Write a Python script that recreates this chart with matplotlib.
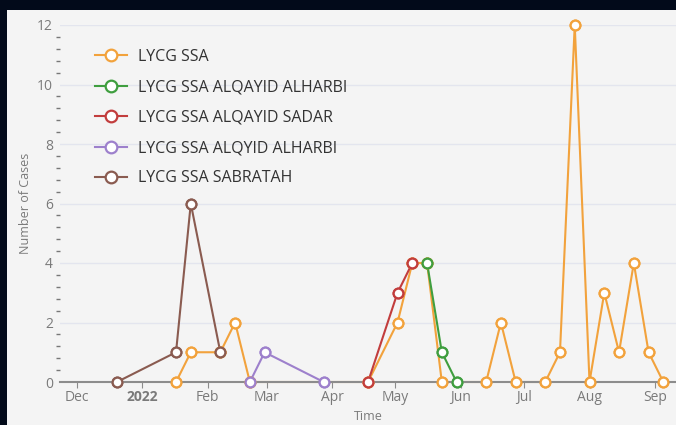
import pandas as pd
import matplotlib.pyplot as plt
from matplotlib.patches import Rectangle
from matplotlib.ticker import MultipleLocator

plt.rcParams['font.family'] = ['Open Sans', 'DejaVu Sans']

# data (weekly counts)
ssa_dates = ['2022-01-17', '2022-01-24', '2022-02-07', '2022-02-14', '2022-02-21',
             '2022-04-18', '2022-05-02', '2022-05-09', '2022-05-16', '2022-05-23',
             '2022-06-13', '2022-06-20', '2022-06-27', '2022-07-11', '2022-07-18',
             '2022-07-25', '2022-08-01', '2022-08-08', '2022-08-15', '2022-08-22',
             '2022-08-29', '2022-09-05']
ssa_vals = [0, 1, 1, 2, 0, 0, 2, 4, 4, 0, 0, 2, 0, 0, 1, 12, 0, 3, 1, 4, 1, 0]

alharbi_dates = ['2022-05-16', '2022-05-23', '2022-05-30']
alharbi_vals = [4, 1, 0]

sadar_dates = ['2022-04-18', '2022-05-02', '2022-05-09']
sadar_vals = [0, 3, 4]

alqyid_dates = ['2022-02-21', '2022-02-28', '2022-03-28']
alqyid_vals = [0, 1, 0]

sabratah_dates = ['2021-12-20', '2022-01-17', '2022-01-24', '2022-02-07']
sabratah_vals = [0, 1, 6, 1]

month_ticks = ['2021-12-01', '2022-01-01', '2022-02-01', '2022-03-01', '2022-04-01',
               '2022-05-01', '2022-06-01', '2022-07-01', '2022-08-01', '2022-09-01']
month_labels = ['Dec', '2022', 'Feb', 'Mar', 'Apr', 'May', 'Jun', 'Jul', 'Aug', 'Sep']

series = [
    ('LYCG SSA', ssa_dates, ssa_vals, '#f2a23c'),
    ('LYCG SSA ALQAYID ALHARBI', alharbi_dates, alharbi_vals, '#3f9e3f'),
    ('LYCG SSA ALQAYID SADAR', sadar_dates, sadar_vals, '#c23d3d'),
    ('LYCG SSA ALQYID ALHARBI', alqyid_dates, alqyid_vals, '#9d80cc'),
    ('LYCG SSA SABRATAH', sabratah_dates, sabratah_vals, '#8a5b50'),
]

fig = plt.figure(figsize=(6.76, 4.25), dpi=100, facecolor='#020a1a')
fig.patches.append(Rectangle((7 / 676, 0), 1, (425 - 10) / 425, transform=fig.transFigure,
                             facecolor='#f4f4f4', edgecolor='none', zorder=-10))
ax = fig.add_axes([60 / 676, 43 / 425, 616 / 676, 357 / 425])
ax.set_facecolor('none')

for name, d, v, c in series:
    d = pd.to_datetime(d)
    ax.plot(d, v, color=c, lw=1.5, marker='o', ms=7, mfc='white', mec=c, mew=1.6,
            label=name, zorder=2, clip_on=False)
    ax.plot(d, v, linestyle='none', marker='o', ms=7, mfc='white', mec=c, mew=1.6,
            zorder=4, clip_on=False)

ax.set_ylim(0, 12)
ax.set_xlim(pd.Timestamp('2021-11-23'), pd.Timestamp('2022-09-11'))
ax.yaxis.set_major_locator(MultipleLocator(2))
ax.yaxis.set_minor_locator(MultipleLocator(0.4))
ax.grid(axis='y', color='#e3e5ee', lw=1)
ax.set_axisbelow(True)

for s in ['top', 'right', 'left']:
    ax.spines[s].set_visible(False)
ax.spines['bottom'].set_color('#8c8c8c')
ax.spines['bottom'].set_linewidth(1.5)
ax.spines['bottom'].set_zorder(3)

ax.set_xticks(pd.to_datetime(month_ticks))
ax.set_xticklabels(month_labels)
ax.get_xticklabels()[1].set_fontweight('bold')
ax.get_xticklabels()[1].set_color('#555555')
ax.tick_params(axis='x', length=4, color='#8c8c8c', labelcolor='#7a7a7a', labelsize=10, pad=2)
ax.tick_params(axis='y', which='major', length=0, labelcolor='#7a7a7a', labelsize=10, pad=5)
ax.tick_params(axis='y', which='minor', length=3, color='#777777', width=1)

ax.set_xlabel('Time', color='#7a7a7a', fontsize=9)
ax.xaxis.set_label_coords(0.5, -0.078)
ax.set_ylabel('Number of Cases', color='#7a7a7a', fontsize=9)
ax.yaxis.set_label_coords(-0.045, 0.5)

leg = ax.legend(loc='upper left', bbox_to_anchor=(95 / 676, (425 - 49) / 425),
                bbox_transform=fig.transFigure, frameon=False, fontsize=11.5,
                handlelength=2.0, handletextpad=0.7, labelspacing=0.9, borderpad=0,
                borderaxespad=0, markerscale=1.2)
for t in leg.get_texts():
    t.set_color('#333333')

fig.savefig('out.png', dpi=100, facecolor=fig.get_facecolor())
